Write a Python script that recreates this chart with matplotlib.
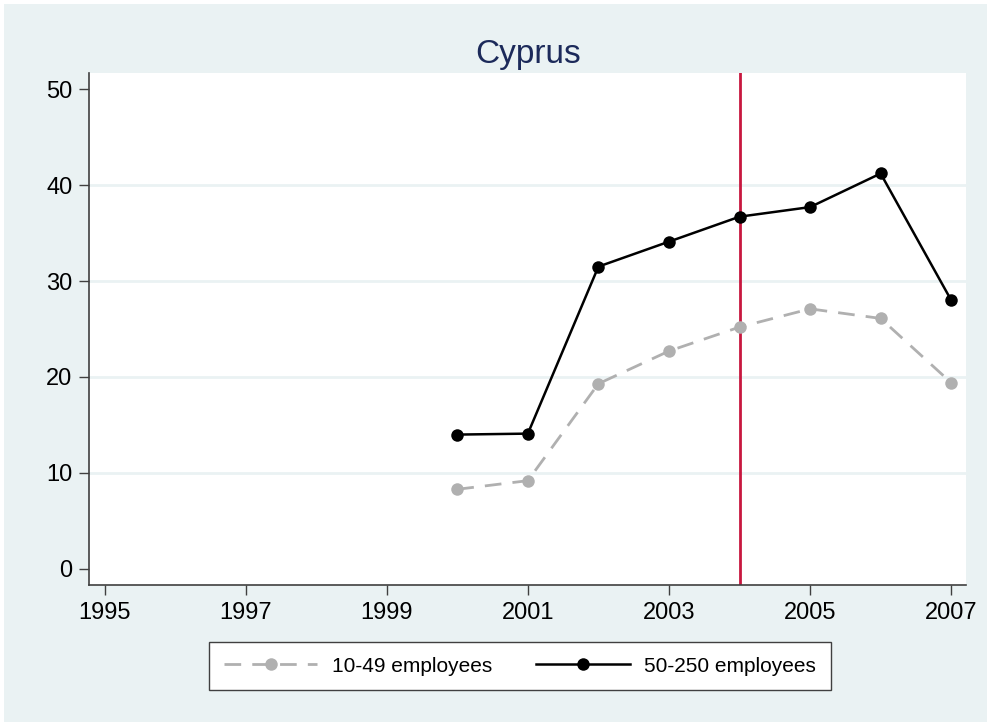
import matplotlib
matplotlib.use("Agg")
import matplotlib.pyplot as plt
from matplotlib.patches import Rectangle

plt.rcParams['font.family'] = ['Liberation Sans', 'DejaVu Sans']

# data
years = [2000, 2001, 2002, 2003, 2004, 2005, 2006, 2007]
small = [8.3, 9.2, 19.3, 22.7, 25.2, 27.1, 26.1, 19.4]     # 10-49 employees
medium = [14.0, 14.1, 31.5, 34.1, 36.7, 37.7, 41.2, 28.0]  # 50-250 employees
xticks = [1995, 1997, 1999, 2001, 2003, 2005, 2007]
yticks = [0, 10, 20, 30, 40, 50]
gridlines = [10, 20, 30, 40]
event_year = 2004

bg = '#EAF2F3'
fig = plt.figure(figsize=(9.91, 7.22), dpi=100, facecolor='white')
fig.patches.append(Rectangle((4 / 991, 0), 983 / 991, 718 / 722,
                             transform=fig.transFigure, facecolor=bg,
                             edgecolor='none', zorder=-10))

ax = fig.add_axes([89 / 991, 137 / 722, 877 / 991, 512 / 722])
ax.set_zorder(1)
ax.set_facecolor('white')

for g in gridlines:
    ax.axhline(g, color=bg, lw=2, zorder=1)
ax.axvline(event_year, color='#C8173F', lw=2, zorder=2)

ax.plot(years, small, color='#B0B0B0', lw=2, dashes=(6, 4), marker='o',
        markersize=9, markeredgewidth=0, label='10-49 employees', zorder=3)
ax.plot(years, medium, color='black', lw=1.8, marker='o',
        markersize=9, markeredgewidth=0, label='50-250 employees', zorder=4)

ax.set_xlim(1994.78, 2007.21)
ax.set_ylim(-1.67, 51.67)
ax.set_xticks(xticks)
ax.set_yticks(yticks)
ax.tick_params(labelsize=17, length=7, width=1, color='#404040', pad=5)
for s in ['top', 'right']:
    ax.spines[s].set_visible(False)
for s in ['left', 'bottom']:
    ax.spines[s].set_color('#404040')
    ax.spines[s].set_linewidth(1.2)

fig.text(528 / 991, 1 - 63 / 722, 'Cyprus', ha='center', va='baseline',
         fontsize=24, color='#1C2A5A', zorder=5)

leg = fig.legend(loc='center', bbox_to_anchor=(520 / 991, 1 - 666 / 722),
                 ncol=2, fontsize=15, handlelength=4.5, handletextpad=0.7,
                 columnspacing=2.1, fancybox=False, frameon=True,
                 framealpha=1, facecolor='white', borderpad=0.7)
leg.get_frame().set_edgecolor('#404040')
leg.get_frame().set_linewidth(1)
leg.set_zorder(5)

fig.savefig('out.png', dpi=100, facecolor='white')
